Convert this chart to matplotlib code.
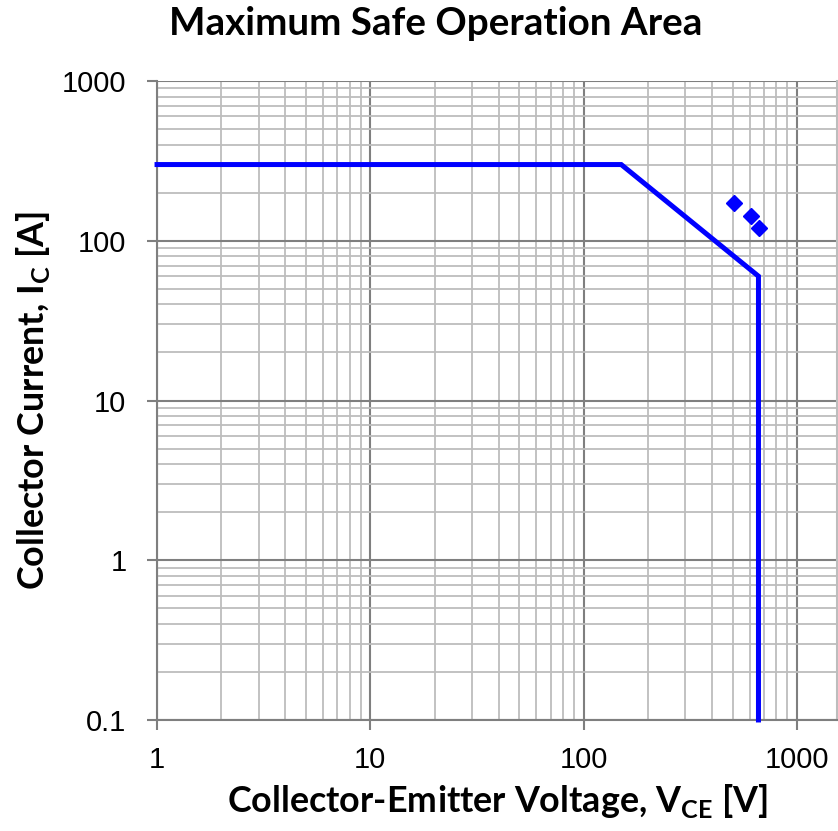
import matplotlib
matplotlib.use("Agg")
import matplotlib.pyplot as plt
from matplotlib.ticker import FixedLocator, LogLocator, NullFormatter

# SOA boundary (Vce [V], Ic [A])
soa_vce = [1, 150, 660, 660]
soa_ic = [300, 300, 60, 0.1]

# pulsed points
pulse_vce = [507, 609, 664]
pulse_ic = [172, 143, 120]

x_ticks = [1, 10, 100, 1000]
x_labels = ["1", "10", "100", "1000"]
y_ticks = [0.1, 1, 10, 100, 1000]
y_labels = ["0.1", "1", "10", "100", "1000"]

BLUE = "#0000ff"
MAJOR = "#7f7f7f"
MINOR = "#bdbdbd"
LABEL_FONT = ["Lato", "DejaVu Sans"]
TICK_FONT = ["Liberation Sans", "DejaVu Sans"]

fig = plt.figure(figsize=(8.38, 8.31), dpi=100)
ax = fig.add_axes([0.1874, 0.1336, 0.8115, 0.7689])

ax.set_xscale("log")
ax.set_yscale("log")
ax.set_xlim(1, 1542)
ax.set_ylim(0.1, 1000)

ax.xaxis.set_major_locator(FixedLocator(x_ticks))
ax.yaxis.set_major_locator(FixedLocator(y_ticks))
ax.xaxis.set_minor_locator(LogLocator(base=10, subs=range(2, 10), numticks=20))
ax.yaxis.set_minor_locator(LogLocator(base=10, subs=range(2, 10), numticks=20))
ax.xaxis.set_minor_formatter(NullFormatter())
ax.yaxis.set_minor_formatter(NullFormatter())
ax.set_xticklabels(x_labels, family=TICK_FONT, fontsize=21)
ax.set_yticklabels(y_labels, family=TICK_FONT, fontsize=21)

ax.grid(which="minor", color=MINOR, linewidth=1.3)
ax.grid(which="major", color=MAJOR, linewidth=1.5)
ax.set_axisbelow(True)

ax.tick_params(which="major", direction="out", length=7, width=1.5,
               color=MAJOR, labelcolor="black")
ax.tick_params(axis="x", which="major", pad=12)
ax.tick_params(axis="y", which="major", pad=15)
ax.tick_params(which="minor", length=0)

for name, sp in ax.spines.items():
    sp.set_color(MAJOR)
    sp.set_linewidth(1.5)
ax.spines["right"].set_color(MINOR)
ax.spines["top"].set_visible(False)

ax.plot(soa_vce, soa_ic, color=BLUE, linewidth=3.6, solid_joinstyle="miter",
        clip_on=False, zorder=3)
ax.plot(pulse_vce, pulse_ic, linestyle="none", marker="D", markersize=8,
        color=BLUE, zorder=4)

ax.set_xlabel("Collector-Emitter Voltage, V$_{\\mathregular{CE}}$ [V]",
              family=LABEL_FONT, fontweight="bold", fontsize=25.8, va="baseline")
ax.xaxis.set_label_coords(0.5, -0.144)
ax.set_ylabel("Collector Current, I$_{\\mathregular{C}}$ [A]",
              family=LABEL_FONT, fontweight="bold", fontsize=25.8)
ax.yaxis.set_label_coords(-0.154, 0.5)
fig.text(0.52, 0.958, "Maximum Safe Operation Area", family=LABEL_FONT,
         fontweight="bold", fontsize=27.8, ha="center", va="baseline")

fig.savefig("out.png", dpi=100)
